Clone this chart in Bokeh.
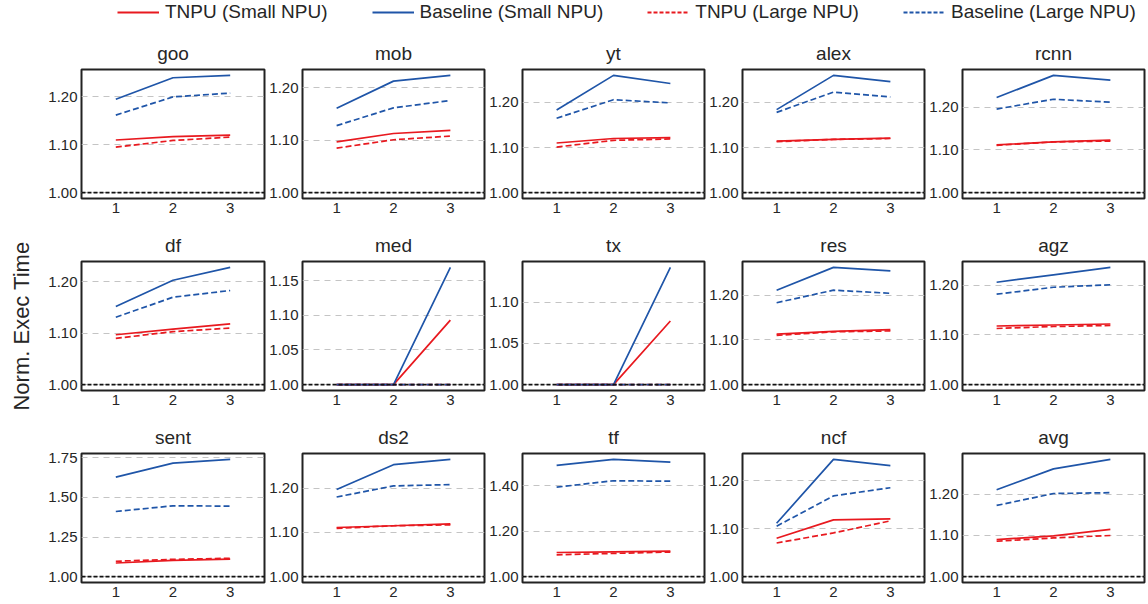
from bokeh.plotting import figure
from bokeh.layouts import column, row
from bokeh.models import (Range1d, FixedTicker, NumeralTickFormatter, Span,
                          Legend, LegendItem)
from bokeh.embed import file_html
from bokeh.resources import INLINE

# ---------------- data ----------------
panels = ["goo", "mob", "yt", "alex", "rcnn",
          "df", "med", "tx", "res", "agz",
          "sent", "ds2", "tf", "ncf", "avg"]
x_vals = [1, 2, 3]
x_ticks = [1, 2, 3]

tnpu_small = [
    [1.110, 1.117, 1.120],
    [1.097, 1.113, 1.119],
    [1.110, 1.120, 1.122],
    [1.114, 1.118, 1.121],
    [1.112, 1.119, 1.123],
    [1.097, 1.108, 1.118],
    [1.000, 1.000, 1.093],
    [1.000, 1.000, 1.077],
    [1.113, 1.119, 1.123],
    [1.118, 1.120, 1.122],
    [1.086, 1.103, 1.110],
    [1.111, 1.115, 1.119],
    [1.106, 1.109, 1.112],
    [1.080, 1.118, 1.120],
    [1.090, 1.099, 1.115],
]
baseline_small = [
    [1.195, 1.240, 1.245],
    [1.161, 1.213, 1.224],
    [1.183, 1.260, 1.242],
    [1.184, 1.260, 1.246],
    [1.223, 1.275, 1.264],
    [1.152, 1.203, 1.228],
    [1.000, 1.000, 1.169],
    [1.000, 1.000, 1.142],
    [1.211, 1.262, 1.254],
    [1.206, 1.221, 1.236],
    [1.628, 1.716, 1.740],
    [1.197, 1.253, 1.265],
    [1.489, 1.515, 1.503],
    [1.111, 1.244, 1.231],
    [1.211, 1.262, 1.285],
]
tnpu_large = [
    [1.095, 1.109, 1.116],
    [1.085, 1.101, 1.108],
    [1.101, 1.116, 1.119],
    [1.113, 1.118, 1.120],
    [1.111, 1.119, 1.121],
    [1.090, 1.103, 1.110],
    [1.000, 1.000, 1.000],
    [1.000, 1.000, 1.000],
    [1.110, 1.118, 1.120],
    [1.113, 1.117, 1.119],
    [1.097, 1.109, 1.116],
    [1.109, 1.115, 1.117],
    [1.096, 1.102, 1.108],
    [1.070, 1.091, 1.116],
    [1.086, 1.094, 1.100],
]
baseline_large = [
    [1.162, 1.200, 1.208],
    [1.128, 1.162, 1.176],
    [1.165, 1.206, 1.199],
    [1.178, 1.223, 1.212],
    [1.196, 1.219, 1.212],
    [1.131, 1.170, 1.183],
    [1.000, 1.000, 1.000],
    [1.000, 1.000, 1.000],
    [1.183, 1.211, 1.204],
    [1.182, 1.196, 1.201],
    [1.411, 1.447, 1.445],
    [1.180, 1.205, 1.208],
    [1.393, 1.421, 1.419],
    [1.105, 1.168, 1.185],
    [1.173, 1.202, 1.204],
]
y_tick_steps = [0.10, 0.10, 0.10, 0.10, 0.10,
                0.10, 0.05, 0.05, 0.10, 0.10,
                0.25, 0.10, 0.20, 0.10, 0.10]
legend_labels = ["TNPU (Small NPU)", "Baseline (Small NPU)",
                 "TNPU (Large NPU)", "Baseline (Large NPU)"]
y_label = "Norm. Exec Time"

# ---------------- style ----------------
RED = "#e8191f"
BLUE = "#1f55a8"
FONT = "Liberation Sans"
TXT = "#262626"
FRAME_W = 183
FRAME_H = 129

series = [(tnpu_small, RED, None), (baseline_small, BLUE, None),
          (tnpu_large, RED, "6 3"), (baseline_large, BLUE, "6 3")]


def make_panel(i, r, c):
    left = 81 if c == 0 else 35
    right = 2
    top = 39
    bottom = 21 if r == 2 else 24
    vals = tnpu_small[i] + baseline_small[i] + tnpu_large[i] + baseline_large[i]
    lo = min(1.0, min(vals))
    hi = max(vals)
    sp = hi - lo
    y0, y1 = lo - 0.05 * sp, hi + 0.05 * sp
    step = y_tick_steps[i]
    ticks = []
    k = 0
    while 1.0 + k * step <= y1 + 1e-9:
        ticks.append(round(1.0 + k * step, 4))
        k += 1
    p = figure(width=left + FRAME_W + right, height=top + FRAME_H + bottom,
               min_border_left=left, min_border_right=right,
               min_border_top=top, min_border_bottom=bottom,
               x_range=Range1d(0.4, 3.6), y_range=Range1d(y0, y1),
               title=panels[i], output_backend="svg", toolbar_location=None)
    p.title.align = "center"
    p.title.text_font = FONT
    p.title.text_font_size = "19px"
    p.title.text_font_style = "normal"
    p.title.text_color = TXT
    p.title.standoff = 12
    p.outline_line_color = "#222222"
    p.outline_line_width = 2
    p.outline_line_alpha = 1.0
    p.background_fill_color = "white"
    p.border_fill_color = "white"

    p.xaxis.ticker = FixedTicker(ticks=x_ticks)
    p.yaxis.ticker = FixedTicker(ticks=ticks)
    p.yaxis.formatter = NumeralTickFormatter(format="0.00")
    for ax in (p.xaxis[0], p.yaxis[0]):
        ax.axis_line_color = None
        ax.major_tick_line_color = None
        ax.minor_tick_line_color = None
        ax.major_tick_out = 0
        ax.major_tick_in = 0
        ax.minor_tick_out = 0
        ax.major_label_text_font = FONT
        ax.major_label_text_font_size = "15px"
        ax.major_label_text_color = TXT
    p.xaxis.major_label_standoff = 4
    p.yaxis.major_label_standoff = 4
    p.xgrid.visible = False
    p.ygrid.ticker = FixedTicker(ticks=ticks)
    p.ygrid.grid_line_color = "#c4c4c4"
    p.ygrid.grid_line_dash = "6 5"
    p.ygrid.grid_line_width = 1

    if i == 5:
        p.yaxis.axis_label = y_label
        p.yaxis.axis_label_text_font = FONT
        p.yaxis.axis_label_text_font_size = "22px"
        p.yaxis.axis_label_text_font_style = "normal"
        p.yaxis.axis_label_text_color = TXT
        p.yaxis.axis_label_standoff = 11

    for data, colr, dash in series:
        kw = dict(line_color=colr, line_width=1.7)
        if dash:
            kw["line_dash"] = dash
        p.line(x_vals, data[i], **kw)

    p.add_layout(Span(location=1.0, dimension="width", line_color="#111111",
                      line_dash="4 2", line_width=1.8))
    return p


rows = []
for r in range(3):
    rows.append(row(*[make_panel(r * 5 + c, r, c) for c in range(5)]))

# legend strip (series drawn outside its visible range; only the legend shows)
lg = figure(width=1146, height=30, min_border=0, x_range=Range1d(10, 11),
            y_range=Range1d(10, 11), x_axis_location=None, y_axis_location=None,
            output_backend="svg", toolbar_location=None)
lg.outline_line_color = None
lg.grid.visible = False
items = []
for (data, colr, dash), lab in zip(series, legend_labels):
    kw = dict(line_color=colr, line_width=2)
    if dash:
        kw["line_dash"] = "4 2"
    rr = lg.line(x_vals, data[-1], **kw)
    items.append(LegendItem(label=lab, renderers=[rr]))
leg = Legend(items=items, orientation="horizontal", location=(117, 7),
             glyph_width=42, glyph_height=20, label_height=20,
             label_standoff=6, spacing=44, padding=0, margin=0,
             border_line_color=None, background_fill_alpha=0,
             label_text_font=FONT, label_text_font_size="19px",
             label_text_color=TXT)
lg.add_layout(leg, "center")

layout = column(lg, *rows)
open("out.html", "w").write(file_html(layout, INLINE))
